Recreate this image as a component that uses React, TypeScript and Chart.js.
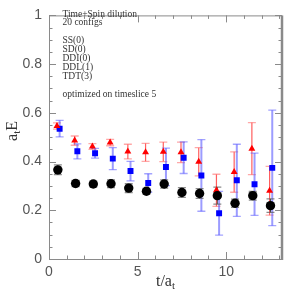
import React, { useEffect, useRef } from "react";
import { Chart, registerables } from "chart.js";

Chart.register(...registerables);

// --- data ---
const ssX = [0.5, 1.5, 2.5, 3.5, 4.5, 5.5, 6.5, 7.5, 8.5, 9.5, 10.5, 11.5, 12.5];
const ssY = [0.366, 0.31, 0.308, 0.309, 0.291, 0.278, 0.308, 0.273, 0.269, 0.26, 0.229, 0.26, 0.219];
const ssErr = [0.02, 0.013, 0.012, 0.016, 0.018, 0.012, 0.017, 0.02, 0.02, 0.035, 0.017, 0.018, 0.028];

const redX = [0.45, 1.45, 2.45, 3.45, 4.45, 5.45, 6.45, 7.45, 8.45, 9.45, 10.45, 11.45, 12.45];
const redY = [0.546, 0.486, 0.462, 0.478, 0.441, 0.438, 0.44, 0.438, 0.399, 0.282, 0.357, 0.453, 0.28];
const redErr = [0.013, 0.019, 0.012, 0.013, 0.03, 0.037, 0.04, 0.042, 0.058, 0.066, 0.083, 0.107, 0.1];

const blueX = [0.6, 1.6, 2.6, 3.6, 4.6, 5.6, 6.6, 7.6, 8.6, 9.6, 10.6, 11.6, 12.6];
const blueY = [0.535, 0.442, 0.434, 0.412, 0.361, 0.312, 0.378, 0.416, 0.343, 0.188, 0.323, 0.307, 0.374];
const blueErr = [0.034, 0.031, 0.02, 0.045, 0.04, 0.038, 0.077, 0.065, 0.147, 0.09, 0.148, 0.128, 0.237];

const xMajorTicks = [0, 5, 10];
const xMinorTicks = [1, 2, 3, 4, 6, 7, 8, 9, 11, 12, 13];
const yMajorTicks = [0, 0.2, 0.4, 0.6, 0.8, 1];
const yMinorTicks = [0.05, 0.1, 0.15, 0.25, 0.3, 0.35, 0.45, 0.5, 0.55, 0.65, 0.7, 0.75, 0.85, 0.9, 0.95];

const noteLines = [
  "Time+Spin dilution",
  "20 configs",
  "",
  "SS(0)",
  "SD(0)",
  "DDI(0)",
  "DDL(1)",
  "TDT(3)",
  "",
  "optimized on timeslice 5",
];

const errStyles = [
  { err: ssErr, line: "rgba(40,40,40,0.85)", cap: "rgba(90,90,90,0.7)", width: 1 },
  { err: redErr, line: "rgba(255,40,40,0.75)", cap: "rgba(255,110,110,0.6)", width: 1.2 },
  { err: blueErr, line: "rgba(90,90,255,0.6)", cap: "rgba(90,90,255,0.55)", width: 2 },
];

const framePlugin = {
  id: "frame",
  beforeDatasetsDraw(chart: any) {
    const { ctx, chartArea: a, scales } = chart;
    const xs = scales.x;
    const ys = scales.y;
    ctx.save();
    // error bars
    const order = [1, 2, 0];
    order.forEach((di) => {
      const st = errStyles[di];
      const ds = chart.data.datasets[di];
      ds.data.forEach((p: any, i: number) => {
        const px = xs.getPixelForValue(p.x);
        const top = ys.getPixelForValue(p.y + st.err[i]);
        const bot = ys.getPixelForValue(p.y - st.err[i]);
        ctx.strokeStyle = st.line;
        ctx.lineWidth = st.width;
        ctx.beginPath();
        ctx.moveTo(px, top);
        ctx.lineTo(px, bot);
        ctx.stroke();
        ctx.strokeStyle = st.cap;
        ctx.lineWidth = 1.3;
        ctx.beginPath();
        ctx.moveTo(px - 4, top);
        ctx.lineTo(px + 4, top);
        ctx.moveTo(px - 4, bot);
        ctx.lineTo(px + 4, bot);
        ctx.stroke();
      });
    });
    ctx.restore();
  },
  afterDraw(chart: any) {
    const { ctx, chartArea: a, scales } = chart;
    const xs = scales.x;
    const ys = scales.y;
    ctx.save();
    ctx.strokeStyle = "#8a8a8a";
    ctx.lineWidth = 1;
    ctx.beginPath();
    ctx.moveTo(a.left + 0.5, a.top);
    ctx.lineTo(a.left + 0.5, a.bottom + 0.5);
    ctx.lineTo(a.right, a.bottom + 0.5);
    ctx.moveTo(a.left, a.top + 0.5);
    ctx.lineTo(a.right, a.top + 0.5);
    ctx.stroke();
    ctx.lineWidth = 2.5;
    ctx.beginPath();
    ctx.moveTo(a.right, a.top);
    ctx.lineTo(a.right, a.bottom + 1);
    ctx.stroke();
    ctx.lineWidth = 1;
    const tick = (v: number, len: number, isX: boolean) => {
      if (isX) {
        const px = Math.round(xs.getPixelForValue(v)) + 0.5;
        ctx.moveTo(px, a.bottom);
        ctx.lineTo(px, a.bottom - len);
        ctx.moveTo(px, a.top);
        ctx.lineTo(px, a.top + len);
      } else {
        const py = Math.round(ys.getPixelForValue(v)) + 0.5;
        ctx.moveTo(a.left, py);
        ctx.lineTo(a.left + len, py);
        ctx.moveTo(a.right, py);
        ctx.lineTo(a.right - len, py);
      }
    };
    ctx.beginPath();
    xMajorTicks.forEach((v) => tick(v, 7, true));
    xMinorTicks.forEach((v) => tick(v, 3.5, true));
    yMajorTicks.forEach((v) => tick(v, 7, false));
    yMinorTicks.forEach((v) => tick(v, 3.5, false));
    ctx.stroke();

    // annotation text
    ctx.fillStyle = "#333";
    ctx.font = "9.5px 'Liberation Serif'";
    ctx.textBaseline = "middle";
    ctx.textAlign = "left";
    noteLines.forEach((s, i) => {
      if (s) ctx.fillText(s, 62.5, 14 + i * 8.9);
    });

    // axis titles
    ctx.fillStyle = "#333";
    ctx.font = "16px 'Liberation Serif'";
    ctx.textBaseline = "alphabetic";
    // x title: t/a_t
    const xt = "t/a";
    const cx = (a.left + a.right) / 2;
    const wMain = ctx.measureText(xt).width;
    ctx.font = "11px 'Liberation Serif'";
    const wSub = ctx.measureText("t").width;
    const startX = cx - (wMain + wSub) / 2;
    ctx.font = "16px 'Liberation Serif'";
    ctx.fillText(xt, startX, 286);
    ctx.font = "11px 'Liberation Serif'";
    ctx.fillText("t", startX + wMain, 289);
    // y title: a_t E rotated
    ctx.save();
    ctx.translate(17, 131);
    ctx.rotate(-Math.PI / 2);
    ctx.font = "16px 'Liberation Serif'";
    const wa = ctx.measureText("a").width;
    ctx.font = "11px 'Liberation Serif'";
    const wt = ctx.measureText("t").width;
    ctx.font = "16px 'Liberation Serif'";
    const we = ctx.measureText("E").width;
    const tot = wa + wt + we;
    let sx = -tot / 2;
    ctx.fillText("a", sx, 0);
    ctx.font = "11px 'Liberation Serif'";
    ctx.fillText("t", sx + wa, 3);
    ctx.font = "16px 'Liberation Serif'";
    ctx.fillText("E", sx + wa + wt, 0);
    ctx.restore();
    ctx.restore();
  },
};

export default function App() {
  const ref = useRef<HTMLCanvasElement | null>(null);
  useEffect(() => {
    document.body.style.margin = "0";
    const canvas = ref.current;
    if (!canvas) return;
    const chart = new Chart(canvas, {
      type: "scatter",
      data: {
        datasets: [
          {
            label: "SS",
            data: ssX.map((x, i) => ({ x, y: ssY[i] })),
            pointStyle: "circle",
            pointRadius: 4.7,
            backgroundColor: "#000",
            borderColor: "#000",
            borderWidth: 0,
          },
          {
            label: "red",
            data: redX.map((x, i) => ({ x, y: redY[i] })),
            pointStyle: "triangle",
            pointRadius: 4,
            backgroundColor: "#ff0000",
            borderColor: "#ff0000",
            borderWidth: 0,
          },
          {
            label: "blue",
            data: blueX.map((x, i) => ({ x, y: blueY[i] })),
            pointStyle: "rect",
            pointRadius: 4.2,
            backgroundColor: "#0000ff",
            borderColor: "#0000ff",
            borderWidth: 0,
          },
        ],
      },
      options: {
        animation: false,
        responsive: false,
        maintainAspectRatio: false,
        events: [],
        layout: { padding: { left: 0, right: 9, top: 3, bottom: 0 } },
        plugins: { legend: { display: false }, tooltip: { enabled: false } },
        scales: {
          x: {
            type: "linear",
            min: 0,
            max: 13.15,
            grid: { display: false, drawTicks: false },
            border: { display: false },
            ticks: {
              stepSize: 5,
              includeBounds: false,
              padding: 5,
              color: "#555",
              font: { family: "'Liberation Sans'", size: 14 },
              maxRotation: 0,
            },
            afterFit: (s: any) => {
              s.height = 32;
            },
          },
          y: {
            type: "linear",
            min: 0,
            max: 1,
            grid: { display: false, drawTicks: false },
            border: { display: false },
            ticks: {
              stepSize: 0.2,
              padding: 7,
              color: "#555",
              font: { family: "'Liberation Sans'", size: 14 },
              callback: (v: any) => {
                const n = Math.round(Number(v) * 10) / 10;
                return n === 0 ? "0" : n === 1 ? "1" : n.toFixed(1);
              },
            },
            afterFit: (s: any) => {
              s.width = 49;
            },
          },
        },
      },
      plugins: [framePlugin],
    });
    return () => chart.destroy();
  }, []);
  return (
    <div style={{ position: "absolute", left: 0, top: 0, width: 291, height: 291, background: "#fff" }}>
      <canvas ref={ref} width={291} height={291} style={{ width: 291, height: 291 }} />
    </div>
  );
}
